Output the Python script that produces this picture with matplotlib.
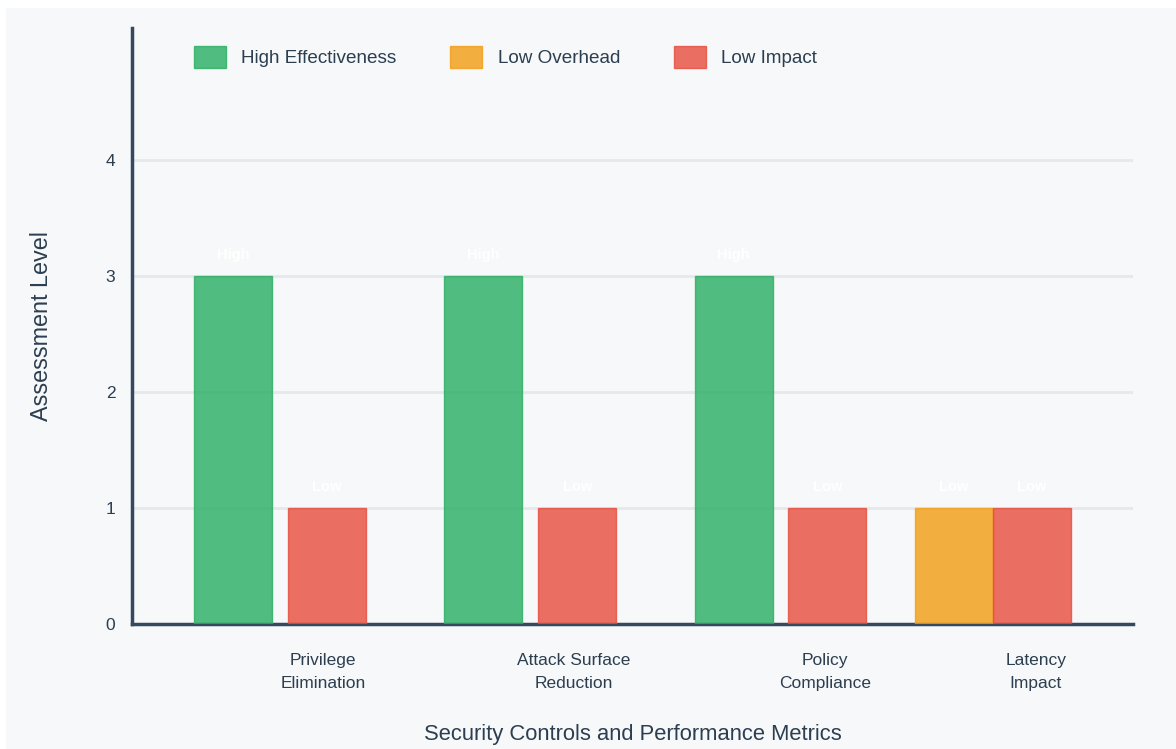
import matplotlib.pyplot as plt
from matplotlib.patches import Rectangle

# data
categories = ['Privilege\nElimination', 'Attack Surface\nReduction', 'Policy\nCompliance', 'Latency\nImpact']
series_names = ['High Effectiveness', 'Low Overhead', 'Low Impact']
series_colors = ['#27ae60', '#f39c12', '#e74c3c']
# None = no bar for that category
effectiveness = [3, 3, 3, None]
overhead = [None, None, None, 1]
impact = [1, 1, 1, 1]
level_names = {1: 'Low', 2: 'Medium', 3: 'High'}

# where each bar sits inside its category slot (fraction of a slot)
bar_offsets = [
    [0.404, None, 0.779],
    [0.404, None, 0.779],
    [0.404, None, 0.779],
    [None, 0.285, 0.596],
]
label_offsets = [0.763, 0.766, 0.769, 0.612]
bar_width = 0.312

plt.rcParams['font.family'] = ['Liberation Sans', 'DejaVu Sans']
text_col = '#2c3e50'

fig = plt.figure(figsize=(11.76, 7.49), dpi=100)
fig.patch.set_facecolor('white')
fig.patches.append(Rectangle((6 / 1176, 0), 1, 741 / 749, transform=fig.transFigure,
                             facecolor='#f7f8fa', edgecolor='none', zorder=-10))

ax = fig.add_axes([132 / 1176, 1 - 624 / 749, 1001 / 1176, 596 / 749])
ax.set_facecolor('#f7f8fa')

all_series = [effectiveness, overhead, impact]
for s, (vals, name, col) in enumerate(zip(all_series, series_names, series_colors)):
    xs, hs = [], []
    for i, v in enumerate(vals):
        if v is None:
            continue
        xs.append(i + bar_offsets[i][s])
        hs.append(v)
    ax.bar(xs, hs, width=bar_width, color=col, alpha=0.8, edgecolor=col,
           linewidth=1, label=name, zorder=3)
    for x, h in zip(xs, hs):
        ax.text(x, h + 0.18, level_names[h], ha='center', va='center',
                color='white', fontsize=10.5, fontweight='bold', zorder=4)

ax.set_xlim(0, 4)
ax.set_ylim(0, 5.138)
ax.set_yticks([0, 1, 2, 3, 4])
ax.set_xticks([i + off for i, off in enumerate(label_offsets)])
ax.set_xticklabels(categories, fontsize=12.5, color=text_col, linespacing=1.65)
ax.tick_params(axis='x', length=0, pad=21)
ax.tick_params(axis='y', length=0, pad=12, labelsize=12.5, labelcolor=text_col)

ax.grid(axis='y', color='#e6e8eb', linewidth=2, zorder=0)
ax.set_axisbelow(True)
for side in ['top', 'right']:
    ax.spines[side].set_visible(False)
for side in ['left', 'bottom']:
    ax.spines[side].set_color('#34495e')
    ax.spines[side].set_linewidth(2.5)

ax.set_xlabel('Security Controls and Performance Metrics', fontsize=15.8, color=text_col, labelpad=23.5)
ax.set_ylabel('Assessment Level', fontsize=16.8, color=text_col, labelpad=38)

leg = ax.legend(loc='upper left', bbox_to_anchor=(62 / 1001, 1 - 18 / 596), ncol=3, frameon=False,
                fontsize=13.6, handlelength=1.7, handleheight=1.45, handletextpad=0.8,
                columnspacing=2.85, borderaxespad=0, borderpad=0)
for t in leg.get_texts():
    t.set_color(text_col)

fig.savefig('out.png', dpi=100, facecolor=fig.get_facecolor())
